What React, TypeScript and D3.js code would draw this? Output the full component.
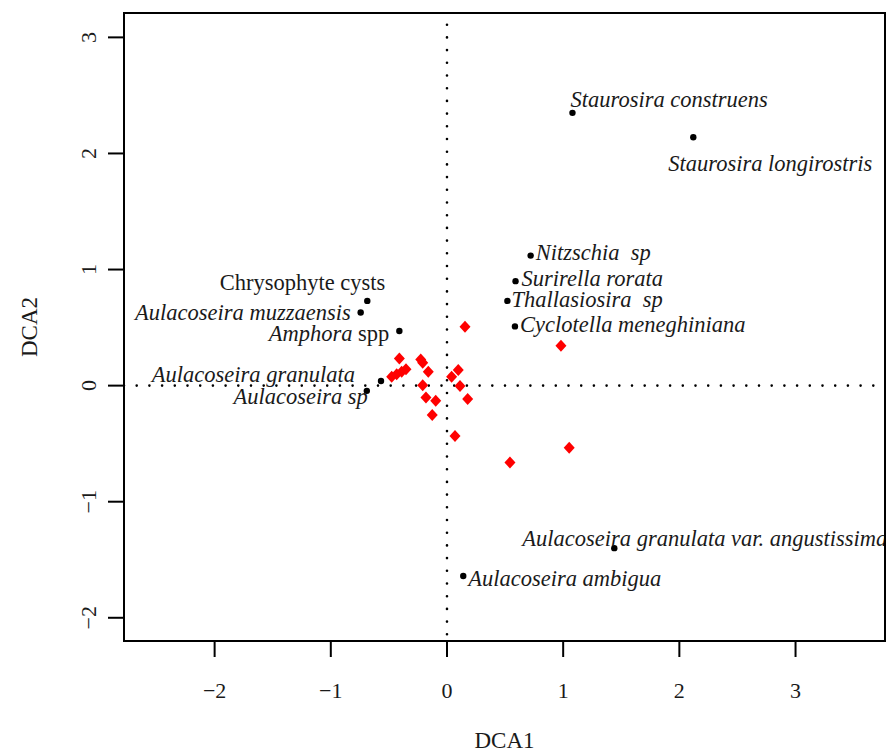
import { useEffect, useRef } from 'react';
import * as d3 from 'd3';

// species scores (DCA1, DCA2)
const speciesNames = [
  'Staurosira construens',
  'Staurosira longirostris',
  'Nitzschia  sp',
  'Surirella rorata',
  'Thallasiosira  sp',
  'Cyclotella meneghiniana',
  'Chrysophyte cysts',
  'Aulacoseira muzzaensis',
  'Amphora spp',
  'Aulacoseira granulata',
  'Aulacoseira sp',
  'Aulacoseira granulata var. angustissima',
  'Aulacoseira ambigua',
];
const speciesX = [1.08, 2.12, 0.72, 0.59, 0.52, 0.585, -0.686, -0.743, -0.41, -0.568, -0.69, 1.44, 0.14];
const speciesY = [2.35, 2.14, 1.12, 0.9, 0.73, 0.51, 0.73, 0.63, 0.47, 0.04, -0.045, -1.4, -1.64];

// site scores
const siteX = [
  0.155, -0.41, -0.226, -0.209, -0.161, -0.476, -0.433, -0.39, -0.353, -0.209, -0.181,
  -0.097, -0.127, 0.04, 0.097, 0.112, 0.178, 0.069, 0.981, 1.052, 0.542,
];
const siteY = [
  0.507, 0.234, 0.226, 0.197, 0.119, 0.076, 0.097, 0.119, 0.14, 0.004, -0.102,
  -0.131, -0.254, 0.076, 0.134, -0.004, -0.116, -0.433, 0.343, -0.536, -0.662,
];

const xTicks = [-2, -1, 0, 1, 2, 3];
const yTicks = [-2, -1, 0, 1, 2, 3];

// label placement relative to the point: [dx, dy, anchor]
const labelPos: Record<string, [number, number, string]> = {
  'Staurosira construens': [-2, -13, 'start'],
  'Staurosira longirostris': [-25, 26, 'start'],
  'Nitzschia  sp': [5, -3, 'start'],
  'Surirella rorata': [6, -3, 'start'],
  'Thallasiosira  sp': [4, -1, 'start'],
  'Cyclotella meneghiniana': [5, -2, 'start'],
  'Chrysophyte cysts': [18, -18, 'end'],
  'Aulacoseira muzzaensis': [-10, 0, 'end'],
  'Amphora spp': [-10, 2, 'end'],
  'Aulacoseira granulata': [-26, -6, 'end'],
  'Aulacoseira sp': [1, 6, 'end'],
  'Aulacoseira granulata var. angustissima': [-92, -10, 'start'],
  'Aulacoseira ambigua': [5, 3, 'start'],
};

const W = 887;
const H = 755;
const font = '"Liberation Serif", "Times New Roman", serif';

export default function App() {
  const ref = useRef<SVGSVGElement>(null);

  useEffect(() => {
    const svg = d3.select(ref.current);
    svg.selectAll('*').remove();

    const left = 124, right = 885, top = 13, bottom = 641;
    const x = d3.scaleLinear().domain([-2.78, 3.77]).range([left, right]);
    const y = d3.scaleLinear().domain([-2.2, 3.21]).range([bottom, top]);

    svg.append('defs').append('clipPath').attr('id', 'plotclip')
      .append('rect')
      .attr('x', left).attr('y', top)
      .attr('width', right - left).attr('height', bottom - top);

    const plot = svg.append('g').attr('clip-path', 'url(#plotclip)');

    // dotted zero lines
    plot.append('line')
      .attr('x1', x(0)).attr('x2', x(0)).attr('y1', bottom).attr('y2', top)
      .attr('stroke', '#000').attr('stroke-width', 2.6)
      .attr('stroke-linecap', 'round').attr('stroke-dasharray', '0 12.7')
      .attr('stroke-dashoffset', 6);
    plot.append('line')
      .attr('x1', left).attr('x2', right).attr('y1', y(0)).attr('y2', y(0))
      .attr('stroke', '#000').attr('stroke-width', 2.6)
      .attr('stroke-linecap', 'round').attr('stroke-dasharray', '0 12.7');

    // sites
    const sites = siteX.map((v, i) => ({ x: v, y: siteY[i] }));
    plot.selectAll('.site').data(sites).enter().append('path')
      .attr('class', 'site')
      .attr('d', 'M0,-6L5.5,0L0,6L-5.5,0Z')
      .attr('transform', d => `translate(${x(d.x)},${y(d.y)})`)
      .attr('fill', '#ff0000');

    // species
    const species = speciesNames.map((n, i) => ({ name: n, x: speciesX[i], y: speciesY[i] }));
    plot.selectAll('.sp').data(species).enter().append('circle')
      .attr('class', 'sp')
      .attr('cx', d => x(d.x)).attr('cy', d => y(d.y)).attr('r', 3.2)
      .attr('fill', '#000');

    const labels = plot.selectAll('.lab').data(species).enter().append('text')
      .attr('class', 'lab')
      .attr('x', d => x(d.x) + labelPos[d.name][0])
      .attr('y', d => y(d.y) + labelPos[d.name][1])
      .attr('text-anchor', d => labelPos[d.name][2])
      .attr('dominant-baseline', 'central')
      .attr('font-family', font)
      .attr('font-size', 22.5)
      .attr('fill', '#1a1a1a')
      .style('white-space', 'pre');

    labels.each(function (d) {
      const t = d3.select(this);
      if (d.name === 'Amphora spp') {
        t.append('tspan').attr('font-style', 'italic').text('Amphora');
        t.append('tspan').text(' spp');
      } else if (d.name === 'Chrysophyte cysts') {
        t.text(d.name);
      } else {
        t.attr('font-style', 'italic').text(d.name);
      }
    });

    // box
    svg.append('rect')
      .attr('x', left).attr('y', top)
      .attr('width', right - left).attr('height', bottom - top)
      .attr('fill', 'none').attr('stroke', '#000').attr('stroke-width', 2);

    // x axis
    const gx = svg.append('g').attr('transform', `translate(0,${bottom})`);
    gx.selectAll('line').data(xTicks).enter().append('line')
      .attr('x1', d => x(d)).attr('x2', d => x(d))
      .attr('y1', 0).attr('y2', 16)
      .attr('stroke', '#000').attr('stroke-width', 2);
    gx.selectAll('text').data(xTicks).enter().append('text')
      .attr('x', d => x(d)).attr('y', 49)
      .attr('text-anchor', 'middle').attr('dominant-baseline', 'central')
      .attr('font-family', font).attr('font-size', 22).attr('fill', '#1a1a1a')
      .text(d => (d < 0 ? '\u2212' + Math.abs(d) : String(d)));

    // y axis
    const gy = svg.append('g').attr('transform', `translate(${left},0)`);
    gy.selectAll('line').data(yTicks).enter().append('line')
      .attr('x1', -16).attr('x2', 0)
      .attr('y1', d => y(d)).attr('y2', d => y(d))
      .attr('stroke', '#000').attr('stroke-width', 2);
    gy.selectAll('text').data(yTicks).enter().append('text')
      .attr('transform', d => `translate(-36,${y(d)}) rotate(-90)`)
      .attr('text-anchor', 'middle').attr('dominant-baseline', 'central')
      .attr('font-family', font).attr('font-size', 22).attr('fill', '#1a1a1a')
      .text(d => (d < 0 ? '\u2212' + Math.abs(d) : String(d)));

    // axis titles
    svg.append('text')
      .attr('x', (left + right) / 2).attr('y', 740)
      .attr('text-anchor', 'middle').attr('dominant-baseline', 'central')
      .attr('font-family', font).attr('font-size', 23).attr('fill', '#1a1a1a')
      .text('DCA1');
    svg.append('text')
      .attr('transform', `translate(29,${(top + bottom) / 2}) rotate(-90)`)
      .attr('text-anchor', 'middle').attr('dominant-baseline', 'central')
      .attr('font-family', font).attr('font-size', 23).attr('fill', '#1a1a1a')
      .text('DCA2');
  }, []);

  return (
    <svg
      ref={ref}
      width={W}
      height={H}
      style={{ position: 'absolute', left: 0, top: 0, background: '#fff', display: 'block' }}
    />
  );
}
